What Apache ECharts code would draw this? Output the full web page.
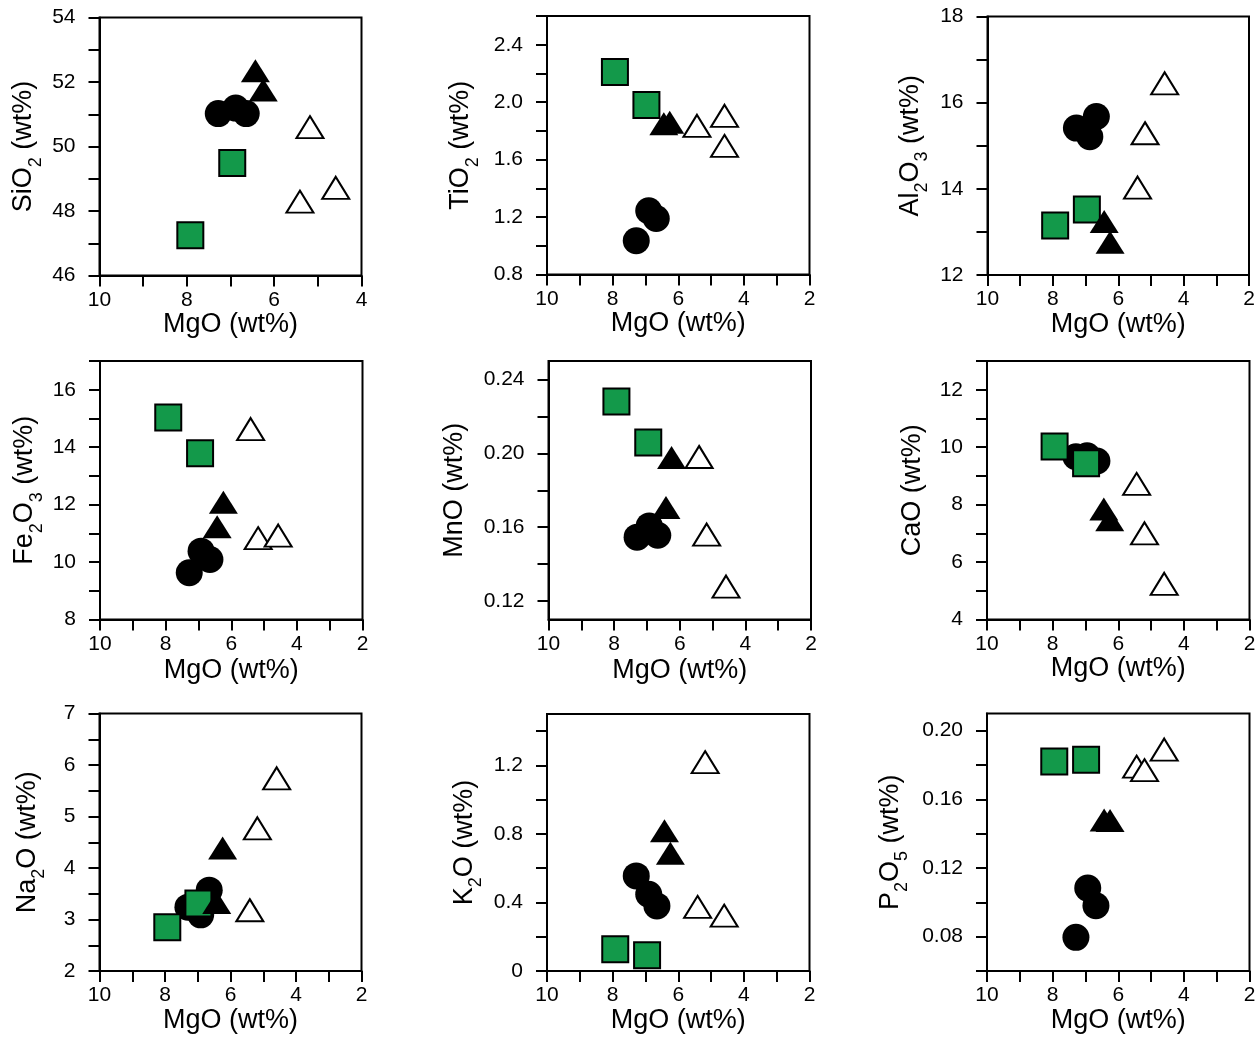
<!DOCTYPE html>
<html>
<head>
<meta charset="utf-8">
<script src="https://cdn.jsdelivr.net/npm/echarts@6/dist/echarts.min.js"></script>
<style>
html,body{margin:0;padding:0;background:#fff;}
#chart{width:1260px;height:1037px;}
</style>
</head>
<body>
<div id="chart"></div>
<script>
// ---------------- DATA: [MgO, oxide] pairs per sample group ----------------
// sq = green squares, ci = black circles, ft = filled triangles, ot = open triangles
const SIO2_SQ = [[7.92, 47.25], [6.96, 49.49]];
const SIO2_CI = [[7.28, 51.02], [6.88, 51.19], [6.64, 51.02]];
const SIO2_FT = [[6.43, 52.35], [6.25, 51.75]];
const SIO2_OT = [[5.18, 50.6], [5.41, 48.29], [4.59, 48.72]];

const TIO2_SQ = [[7.93, 2.21], [6.97, 1.98]];
const TIO2_CI = [[6.9, 1.244], [6.67, 1.19], [7.28, 1.035]];
const TIO2_FT = [[6.44, 1.85], [6.26, 1.86]];
const TIO2_OT = [[5.43, 1.835], [4.59, 1.905], [4.59, 1.695]];

const AL2O3_SQ = [[7.93, 13.15], [6.96, 13.52]];
const AL2O3_CI = [[7.28, 15.41], [6.67, 15.68], [6.87, 15.21]];
const AL2O3_FT = [[6.43, 13.24], [6.25, 12.76]];
const AL2O3_OT = [[4.58, 16.45], [5.18, 15.29], [5.41, 14.03]];

const FE2O3_SQ = [[7.92, 15.03], [6.95, 13.79]];
const FE2O3_CI = [[7.28, 9.63], [6.92, 10.38], [6.65, 10.09]];
const FE2O3_FT = [[6.24, 12.08], [6.43, 11.23]];
const FE2O3_OT = [[5.41, 14.63], [5.18, 10.83], [4.57, 10.92]];

const MNO_SQ = [[7.93, 0.228], [6.96, 0.2058]];
const MNO_CI = [[7.30, 0.1546], [6.93, 0.1607], [6.67, 0.1556]];
const MNO_FT = [[6.25, 0.1978], [6.42, 0.1706]];
const MNO_OT = [[5.41, 0.198], [5.18, 0.156], [4.59, 0.1278]];

const CAO_SQ = [[7.94, 10.02], [6.98, 9.44]];
const CAO_CI = [[7.29, 9.67], [6.95, 9.7], [6.65, 9.52]];
const CAO_FT = [[6.44, 7.85], [6.26, 7.47]];
const CAO_OT = [[5.44, 8.72], [5.2, 7.0], [4.6, 5.24]];

const NA2O_SQ = [[7.93, 2.85], [6.98, 3.31]];
const NA2O_CI = [[7.3, 3.24], [6.91, 3.09], [6.65, 3.57]];
const NA2O_FT = [[6.24, 4.39], [6.42, 3.33]];
const NA2O_OT = [[4.59, 5.74], [5.18, 4.77], [5.41, 3.18]];

const K2O_SQ = [[7.92, 0.127], [6.95, 0.092]];
const K2O_CI = [[7.28, 0.555], [6.9, 0.448], [6.65, 0.38]];
const K2O_FT = [[6.42, 0.818], [6.24, 0.687]];
const K2O_OT = [[5.18, 1.219], [5.41, 0.374], [4.6, 0.323]];

const P2O5_SQ = [[7.95, 0.182], [6.98, 0.183]];
const P2O5_CI = [[6.93, 0.1083], [6.68, 0.098], [7.29, 0.0796]];
const P2O5_FT = [[6.43, 0.148], [6.25, 0.1476]];
const P2O5_OT = [[4.6, 0.189], [5.44, 0.179], [5.2, 0.177]];

// ---------------- TICKS / LABELS ----------------
const X_TICKS_A = [4, 5, 6, 7, 8, 9, 10];
const X_LABELS_A = [4, 6, 8, 10];
const X_TICKS_B = [2, 3, 4, 5, 6, 7, 8, 9, 10];
const X_LABELS_B = [2, 4, 6, 8, 10];

const SIO2_TICKS = [46, 47, 48, 49, 50, 51, 52, 53, 54];
const SIO2_LABELS = [46, 48, 50, 52, 54];
const TIO2_TICKS = [0.8, 1.0, 1.2, 1.4, 1.6, 1.8, 2.0, 2.2, 2.4, 2.6];
const TIO2_LABELS = [0.8, 1.2, 1.6, 2.0, 2.4];
const AL2O3_TICKS = [12, 13, 14, 15, 16, 17, 18];
const AL2O3_LABELS = [12, 14, 16, 18];
const FE2O3_TICKS = [8, 9, 10, 11, 12, 13, 14, 15, 16, 17];
const FE2O3_LABELS = [8, 10, 12, 14, 16];
const MNO_TICKS = [0.12, 0.14, 0.16, 0.18, 0.20, 0.22, 0.24];
const MNO_LABELS = [0.12, 0.16, 0.20, 0.24];
const CAO_TICKS = [4, 5, 6, 7, 8, 9, 10, 11, 12, 13];
const CAO_LABELS = [4, 6, 8, 10, 12];
const NA2O_TICKS = [2, 2.5, 3, 3.5, 4, 4.5, 5, 5.5, 6, 6.5, 7];
const NA2O_LABELS = [2, 3, 4, 5, 6, 7];
const K2O_TICKS = [0, 0.2, 0.4, 0.6, 0.8, 1.0, 1.2, 1.4];
const K2O_LABELS = [0, 0.4, 0.8, 1.2];
const P2O5_TICKS = [0.06, 0.08, 0.10, 0.12, 0.14, 0.16, 0.18, 0.20];
const P2O5_LABELS = [0.08, 0.12, 0.16, 0.20];

const X_TITLE = 'MgO (wt%)';

// ---------------- PANELS ----------------
const PANELS = [
  { title: '{m|SiO}{s|2}{m| (wt%)}', groups: [SIO2_CI, SIO2_SQ, SIO2_FT, SIO2_OT], ymin: 46, ymax: 54, yt: SIO2_TICKS, yl: SIO2_LABELS, dec: 0, xmin: 4, xt: X_TICKS_A, xl: X_LABELS_A,
    box: [99.5, 17.5, 262, 258], yGap: 66, xGap: 57.7 },
  { title: '{m|TiO}{s|2}{m| (wt%)}', groups: [TIO2_CI, TIO2_SQ, TIO2_FT, TIO2_OT], ymin: 0.8, ymax: 2.6, yt: TIO2_TICKS, yl: TIO2_LABELS, dec: 1, xmin: 2, xt: X_TICKS_B, xl: X_LABELS_B,
    box: [547, 16, 262.5, 258.5], yGap: 76.7, xGap: 59 },
  { title: '{m|Al}{s|2}{m|O}{s|3}{m| (wt%)}', groups: [AL2O3_CI, AL2O3_SQ, AL2O3_FT, AL2O3_OT], ymin: 12, ymax: 18, yt: AL2O3_TICKS, yl: AL2O3_LABELS, dec: 0, xmin: 2, xt: X_TICKS_B, xl: X_LABELS_B,
    box: [987.5, 16.5, 261.5, 258.5], yGap: 67.7, xGap: 56.7 },
  { title: '{m|Fe}{s|2}{m|O}{s|3}{m| (wt%)}', groups: [FE2O3_CI, FE2O3_SQ, FE2O3_FT, FE2O3_OT], ymin: 8, ymax: 17, yt: FE2O3_TICKS, yl: FE2O3_LABELS, dec: 0, xmin: 2, xt: X_TICKS_B, xl: X_LABELS_B,
    box: [100, 361, 262.5, 258.5], yGap: 65.7, xGap: 60.7 },
  { title: '{m|MnO (wt%)}', groups: [MNO_CI, MNO_SQ, MNO_FT, MNO_OT], ymin: 0.11, ymax: 0.25, yt: MNO_TICKS, yl: MNO_LABELS, dec: 2, xmin: 2, xt: X_TICKS_B, xl: X_LABELS_B,
    box: [548.5, 361, 262.5, 258.5], yGap: 84.7, xGap: 60.7 },
  { title: '{m|CaO (wt%)}', groups: [CAO_CI, CAO_SQ, CAO_FT, CAO_OT], ymin: 4, ymax: 13, yt: CAO_TICKS, yl: CAO_LABELS, dec: 0, xmin: 2, xt: X_TICKS_B, xl: X_LABELS_B,
    box: [987, 361, 262.5, 258.5], yGap: 65.3, xGap: 57.4 },
  { title: '{m|Na}{s|2}{m|O (wt%)}', groups: [NA2O_CI, NA2O_SQ, NA2O_FT, NA2O_OT], ymin: 2, ymax: 7, yt: NA2O_TICKS, yl: NA2O_LABELS, dec: 0, xmin: 2, xt: X_TICKS_B, xl: X_LABELS_B,
    box: [99.5, 713.5, 262, 257.5], yGap: 62.6, xGap: 55.7 },
  { title: '{m|K}{s|2}{m|O (wt%)}', groups: [K2O_CI, K2O_SQ, K2O_FT, K2O_OT], ymin: 0, ymax: 1.5, yt: K2O_TICKS, yl: K2O_LABELS, dec: -1, xmin: 2, xt: X_TICKS_B, xl: X_LABELS_B,
    box: [547, 714, 262.5, 257], yGap: 73.4, xGap: 56 },
  { title: '{m|P}{s|2}{m|O}{s|5}{m| (wt%)}', groups: [P2O5_CI, P2O5_SQ, P2O5_FT, P2O5_OT], ymin: 0.06, ymax: 0.21, yt: P2O5_TICKS, yl: P2O5_LABELS, dec: 2, xmin: 2, xt: X_TICKS_B, xl: X_LABELS_B,
    box: [987, 713.5, 262.5, 257.5], yGap: 87, xGap: 54.3 }
];

const FONT = '"Liberation Sans", Arial, Helvetica, sans-serif';
const GREEN = '#13994a';

const STYLES = [
  { symbol: 'circle', symbolSize: 27, itemStyle: { color: '#000', borderColor: '#000', borderWidth: 0, opacity: 1 } },
  { symbol: 'rect', symbolSize: 26, itemStyle: { color: GREEN, borderColor: '#000', borderWidth: 2, opacity: 1 } },
  { symbol: 'triangle', symbolSize: [29, 23], itemStyle: { color: '#000', borderColor: '#000', borderWidth: 0, opacity: 1 } },
  { symbol: 'triangle', symbolSize: [27, 22], itemStyle: { color: '#fff', borderColor: '#000', borderWidth: 2, opacity: 1 } }
];

function fmt(v, dec) {
  if (dec === -1) return v === 0 ? '0' : v.toFixed(1);
  return v.toFixed(dec);
}

const grids = [], xAxes = [], yAxes = [], series = [];
const AXLINE = { show: true, onZero: false, lineStyle: { color: '#000', width: 2 } };
const TICK = { show: true, inside: false, length: 11, lineStyle: { color: '#000', width: 2 } };

PANELS.forEach((p, i) => {
  grids.push({
    left: p.box[0], top: p.box[1], width: p.box[2], height: p.box[3],
    show: true, borderColor: '#000', borderWidth: 2, backgroundColor: 'transparent', containLabel: false
  });
  xAxes.push({
    type: 'value', gridIndex: i, min: p.xmin, max: 10, inverse: true,
    axisLine: AXLINE,
    axisTick: Object.assign({}, TICK, { customValues: p.xt }),
    axisLabel: { customValues: p.xl, margin: 14, fontSize: 21, color: '#000', fontFamily: FONT, formatter: v => String(v) },
    splitLine: { show: false },
    name: X_TITLE, nameLocation: 'middle', nameGap: p.xGap - 23,
    nameTextStyle: { fontSize: 27, color: '#000', fontFamily: FONT, lineHeight: 27 }
  });
  yAxes.push({
    type: 'value', gridIndex: i, min: p.ymin, max: p.ymax,
    axisLine: AXLINE,
    axisTick: Object.assign({}, TICK, { customValues: p.yt }),
    axisLabel: { customValues: p.yl, margin: 24, fontSize: 21, color: '#000', fontFamily: FONT, formatter: v => fmt(v, p.dec) },
    splitLine: { show: false },
    name: p.title, nameLocation: 'middle', nameRotate: 90, nameGap: p.yGap - 11.5,
    nameTextStyle: {
      fontFamily: FONT, color: '#000',
      rich: {
        m: { fontSize: 27, lineHeight: 42, color: '#000', fontFamily: FONT, verticalAlign: 'middle' },
        s: { fontSize: 18, lineHeight: 18, padding: [24, 0, 0, 0], color: '#000', fontFamily: FONT, verticalAlign: 'middle' }
      }
    }
  });
  p.groups.forEach((g, k) => {
    series.push(Object.assign({
      type: 'scatter', xAxisIndex: i, yAxisIndex: i, data: g,
      emphasis: { disabled: true }, silent: true
    }, STYLES[k]));
  });
});

const chart = echarts.init(document.getElementById('chart'), null, { renderer: 'canvas' });
chart.setOption({
  animation: false,
  backgroundColor: '#fff',
  grid: grids, xAxis: xAxes, yAxis: yAxes, series: series
});
</script>
</body>
</html>
